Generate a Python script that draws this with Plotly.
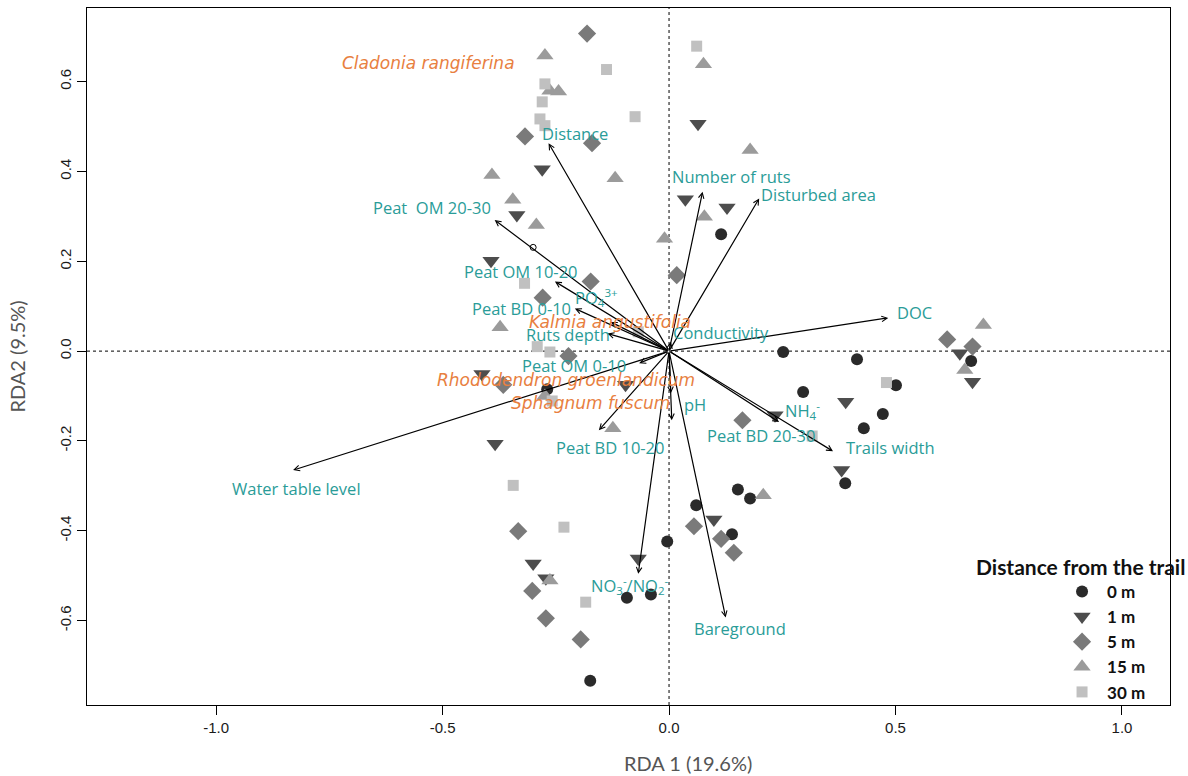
import plotly.graph_objects as go

# ---------------- site scores (RDA1, RDA2) by distance from the trail ----------------
d0_x = [0.115, 0.252, 0.415, 0.667, 0.501, 0.296, 0.472, 0.430, 0.389, 0.152, 0.179, 0.060, 0.139, -0.004, -0.093, -0.040, -0.174, -0.269]
d0_y = [0.260, -0.002, -0.018, -0.022, -0.076, -0.091, -0.140, -0.172, -0.294, -0.308, -0.328, -0.343, -0.408, -0.424, -0.549, -0.542, -0.734, -0.085]

d1_x = [0.064, -0.280, -0.336, 0.036, 0.128, -0.393, -0.413, -0.096, -0.384, 0.642, 0.670, 0.390, 0.234, 0.381, 0.099, -0.068, -0.300, -0.272]
d1_y = [0.506, 0.405, 0.303, 0.338, 0.320, 0.201, -0.051, -0.075, -0.206, -0.005, -0.068, -0.113, -0.143, -0.265, -0.375, -0.462, -0.473, -0.506]

d5_x = [-0.181, -0.318, -0.170, 0.017, -0.173, -0.279, -0.222, -0.366, 0.162, 0.614, 0.670, 0.055, 0.115, 0.143, -0.333, -0.302, -0.272, -0.195]
d5_y = [0.707, 0.478, 0.463, 0.169, 0.155, 0.119, -0.011, -0.075, -0.154, 0.026, 0.010, -0.390, -0.418, -0.449, -0.401, -0.534, -0.595, -0.642]

d15_x = [-0.274, -0.263, -0.244, 0.076, 0.179, -0.391, -0.119, -0.345, -0.293, 0.078, -0.010, -0.373, -0.274, -0.124, 0.694, 0.653, 0.208, -0.263]
d15_y = [0.658, 0.580, 0.578, 0.639, 0.448, 0.392, 0.385, 0.337, 0.281, 0.299, 0.250, 0.053, -0.100, -0.172, 0.058, -0.042, -0.321, -0.511]

d30_x = [0.061, -0.138, -0.274, -0.280, -0.075, -0.285, -0.274, -0.319, -0.068, -0.291, -0.263, -0.258, 0.480, 0.316, -0.344, -0.232, -0.184]
d30_y = [0.679, 0.627, 0.595, 0.555, 0.522, 0.517, 0.502, 0.151, 0.043, 0.010, -0.002, -0.111, -0.070, -0.189, -0.299, -0.392, -0.559]

# small open circle on the Peat OM 20-30 vector
centroid_x = [-0.300]
centroid_y = [0.231]

# ---------------- environmental vectors (arrow tips) ----------------
env_names = ["Distance", "Peat OM 20-30", "Peat OM 10-20", "Peat BD 0-10", "PO4", "Ruts depth",
             "Peat OM 0-10", "Conductivity", "pH", "Peat BD 20-30", "Peat BD 10-20",
             "Water table level", "NO3/NO2", "Bareground", "Trails width", "NH4", "DOC",
             "Disturbed area", "Number of ruts"]
env_x = [-0.266, -0.385, -0.252, -0.208, -0.129, -0.136, -0.066, 0.004, 0.006, 0.004, -0.155,
         -0.830, -0.068, 0.125, 0.362, 0.243, 0.484, 0.199, 0.074]
env_y = [0.463, 0.292, 0.155, 0.095, 0.065, 0.039, -0.027, 0.021, -0.154, -0.094, -0.176,
         -0.265, -0.496, -0.593, -0.223, -0.158, 0.074, 0.340, 0.355]

# ---------------- vector labels ----------------
env_label_text = ["Distance", "Peat  OM 20-30", "Peat OM 10-20", "PO<sub>4</sub><sup>3+</sup>",
                  "Peat BD 0-10", "Ruts depth", "Conductivity", "DOC", "Peat OM 0-10", "pH",
                  "NH<sub>4</sub><sup>-</sup>", "Peat BD 20-30", "Trails width", "Peat BD 10-20",
                  "Water table level", "NO<sub>3</sub><sup>-</sup>/NO<sub>2</sub><sup>-</sup>",
                  "Bareground", "Number of ruts", "Disturbed area"]
env_label_x = [-0.208, -0.523, -0.327, -0.161, -0.325, -0.223, 0.115, 0.541, -0.210, 0.057,
               0.294, 0.205, 0.490, -0.130, -0.823, -0.086, 0.157, 0.137, 0.329]
env_label_y = [0.484, 0.319, 0.178, 0.120, 0.094, 0.038, 0.042, 0.085, -0.033, -0.118,
               -0.132, -0.187, -0.214, -0.214, -0.305, -0.522, -0.618, 0.388, 0.348]

# ---------------- species labels ----------------
sp_names = ["Cladonia rangiferina", "Kalmia angustifolia", "Rhododendron groenlandicum", "Sphagnum fuscum"]
sp_x = [-0.530, -0.130, -0.227, -0.174]
sp_y = [0.642, 0.065, -0.065, -0.116]

# ---------------- legend / axes ----------------
group_names = ["0 m", "1 m", "5 m", "15 m", "30 m"]
legend_title = "Distance from the trail"
x_title = "RDA 1 (19.6%)"
y_title = "RDA2 (9.5%)"
x_tickvals = [-1.0, -0.5, 0.0, 0.5, 1.0]
x_ticktext = ["-1.0", "-0.5", "0.0", "0.5", "1.0"]
y_tickvals = [-0.6, -0.4, -0.2, 0.0, 0.2, 0.4, 0.6]
y_ticktext = ["-0.6", "-0.4", "-0.2", "0.0", "0.2", "0.4", "0.6"]

TEAL = "#2a9c98"
ORANGE = "#e8803f"

styles = [
    dict(symbol="circle", size=12, color="#2a2a2a"),
    dict(symbol="triangle-down", size=15, color="#4d4d4d"),
    dict(symbol="diamond", size=14, color="#7a7a7a"),
    dict(symbol="triangle-up", size=15, color="#9b9b9b"),
    dict(symbol="square", size=11, color="#c0c0c0"),
]
groups = [(d0_x, d0_y), (d1_x, d1_y), (d5_x, d5_y), (d15_x, d15_y), (d30_x, d30_y)]

fig = go.Figure()
for (gx, gy), name, st in zip(groups, group_names, styles):
    fig.add_trace(go.Scatter(
        x=gx, y=gy, mode="markers", name=name,
        marker=dict(symbol=st["symbol"], size=st["size"], color=st["color"], line=dict(width=0)),
    ))

fig.add_trace(go.Scatter(
    x=centroid_x, y=centroid_y, mode="markers", showlegend=False,
    marker=dict(symbol="circle-open", size=6, color="black", line=dict(width=1)),
))

annotations = []
# arrows
for ex, ey in zip(env_x, env_y):
    annotations.append(dict(
        x=ex, y=ey, ax=0, ay=0, xref="x", yref="y", axref="x", ayref="y",
        text="", showarrow=True, arrowhead=5, arrowsize=0.9, arrowwidth=1.2,
        arrowcolor="black", standoff=0,
    ))
# env labels
for t, lx, ly in zip(env_label_text, env_label_x, env_label_y):
    annotations.append(dict(
        x=lx, y=ly, xref="x", yref="y", text=t, showarrow=False,
        font=dict(family="Open Sans", size=16.5, color=TEAL),
        xanchor="center", yanchor="middle",
    ))
# species labels
for t, lx, ly in zip(sp_names, sp_x, sp_y):
    annotations.append(dict(
        x=lx, y=ly, xref="x", yref="y", text="<i>" + t + "</i>", showarrow=False,
        font=dict(family="DejaVu Sans", size=17, color=ORANGE),
        xanchor="center", yanchor="middle",
    ))
# legend title
annotations.append(dict(
    x=0.917, y=0.198, xref="paper", yref="paper", text="<b>" + legend_title + "</b>",
    showarrow=False, font=dict(family="Lato", size=21, color="#111111"),
    xanchor="center", yanchor="middle",
))
# axis titles
annotations.append(dict(
    x=0.555, y=-0.083, xref="paper", yref="paper", text=x_title, showarrow=False,
    font=dict(family="Lato", size=20, color="#555555"), xanchor="center", yanchor="middle",
))
annotations.append(dict(
    x=-0.0655, y=0.5, xref="paper", yref="paper", text=y_title, showarrow=False, textangle=-90,
    font=dict(family="Lato", size=20, color="#555555"), xanchor="center", yanchor="middle",
))

shapes = [
    dict(type="line", xref="x", yref="paper", x0=0, x1=0, y0=0, y1=1,
         line=dict(color="black", width=1, dash="dot"), layer="below"),
    dict(type="line", xref="paper", yref="y", x0=0, x1=1, y0=0, y1=0,
         line=dict(color="black", width=1, dash="dot"), layer="below"),
]

fig.update_layout(
    width=1188, height=776,
    margin=dict(l=87, r=18, t=8, b=71),
    paper_bgcolor="white", plot_bgcolor="white",
    showlegend=True,
    legend=dict(
        x=0.8957, y=0.188, xanchor="left", yanchor="top",
        font=dict(family="Lato", size=17, color="#111111", weight="bold"),
        bgcolor="rgba(0,0,0,0)", borderwidth=0, itemwidth=40, tracegroupgap=0,
    ),
    annotations=annotations,
    shapes=shapes,
    xaxis=dict(
        range=[-1.285, 1.106], tickvals=x_tickvals, ticktext=x_ticktext,
        showgrid=False, zeroline=False, showline=True, linecolor="black", linewidth=1,
        mirror=True, ticks="outside", ticklen=9, tickcolor="black",
        tickfont=dict(family="Liberation Sans", size=15, color="#1a1a1a"),
    ),
    yaxis=dict(
        range=[-0.788, 0.764], tickvals=y_tickvals, ticktext=y_ticktext,
        showgrid=False, zeroline=False, showline=True, linecolor="black", linewidth=1,
        mirror=True, ticks="outside", ticklen=9, tickcolor="black", tickangle=-90,
        tickfont=dict(family="Liberation Sans", size=15, color="#1a1a1a"),
    ),
)

fig.write_html("out.html")
